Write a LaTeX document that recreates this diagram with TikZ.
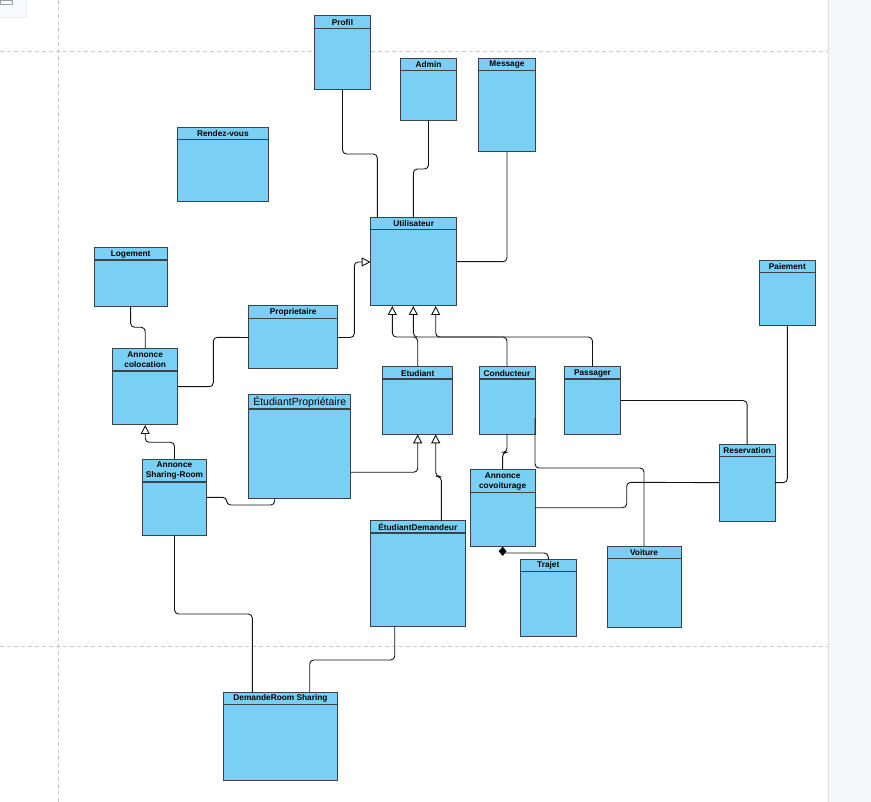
\documentclass[tikz,border=0pt]{standalone}
\usepackage{fontspec}
\setmainfont{Liberation Sans}
\usetikzlibrary{arrows.meta,shapes.geometric}
\definecolor{clsfill}{RGB}{122,207,244}
\definecolor{clsdraw}{RGB}{60,66,72}
\definecolor{gridc}{RGB}{200,200,200}
\definecolor{panelc}{RGB}{245,247,249}
\definecolor{linec}{RGB}{20,20,20}
\newcommand\umlcls[7]{%
  \node[clsbox, minimum width={(#4-#2)*1pt}, minimum height={(#5-#3)*1pt}] (#1) at ({(#2+#4)/2},{(#3+#5)/2}) {};
  \draw[hdrline] (#2,#6) -- (#4,#6);
  \node[hdrtxt] (#1-t) at ({(#2+#4)/2},{(#3+#6)/2+0.3}) {#7};
}
\begin{document}
\begin{tikzpicture}[x=1pt,y=-1pt,
  clsbox/.style={draw=clsdraw, fill=clsfill, line width=1pt, inner sep=0pt, outer sep=0pt, rectangle},
  hdrline/.style={draw=clsdraw, line width=1.2pt},
  hdrtxt/.style={inner sep=0pt, align=center, font=\bfseries\fontsize{8.3}{10}\selectfont, text=black},
  conn/.style={draw=linec, line width=0.9pt, rounded corners=4pt},
  gen/.style={conn, -{Triangle[open, fill=white, length=9pt, width=9pt]}},
  compdia/.style={diamond, fill=black, draw=none, inner sep=0pt, minimum width=8pt, minimum height=9.5pt},
  gridline/.style={draw=gridc, line width=0.8pt, dash pattern=on 4pt off 3pt}]
\useasboundingbox (0,0) rectangle (871,802);
\fill[white] (0,0) rectangle (871,802);
% page furniture
\fill[panelc] (828.5,0) rectangle (871,802);
\draw[gray!25, line width=1.2pt] (828.5,0) -- (828.5,802);
\draw[gridline] (58.5,0) -- (58.5,802);
\draw[gridline] (0,51.5) -- (828,51.5);
\draw[gridline] (0,646) -- (828,646);
\fill[panelc!60] (0,0) rectangle (26.5,17);
\draw[gray!15, line width=0.6pt] (26.5,0) -- (26.5,17) -- (0,17);
\draw[gray!75, line width=0.6pt] (0,0.3) rectangle (12,4.8);

% classes
\umlcls{profil}{314.3}{15.7}{370.7}{90}{28.3}{Profil}
\umlcls{admin}{400.3}{58.7}{456.7}{120.3}{70.7}{Admin}
\umlcls{message}{478.7}{58.7}{535.3}{151.7}{70.7}{Message}
\umlcls{rdv}{177}{127.3}{268.7}{201.3}{139.3}{Rendez-vous}
\umlcls{util}{370.7}{217.7}{456.7}{306}{229.7}{Utilisateur}
\umlcls{loge}{94.3}{247.7}{167}{306.3}{260}{Logement}
\umlcls{paie}{759}{260.3}{815.7}{326}{272.3}{Paiement}
\umlcls{prop}{248.7}{306}{337.7}{369}{318.3}{Proprietaire}
\umlcls{acol}{112.7}{348.3}{177.7}{425}{371}{Annonce\\colocation}
\umlcls{etud}{382.7}{366.7}{452.7}{434.3}{379}{Etudiant}
\umlcls{cond}{479}{366.7}{535}{434.3}{379}{Conducteur}
\umlcls{pass}{564.3}{366.7}{620.7}{434.3}{379}{Passager}
\umlcls{ep}{248.7}{394.7}{350.7}{498}{409}{\mdseries\fontsize{10.5}{12}\selectfont ÉtudiantPropriétaire}
\umlcls{res}{719}{444.3}{775.3}{521}{456.7}{Reservation}
\umlcls{asr}{142.3}{459.3}{206.7}{535.7}{482}{Annonce\\Sharing-Room}
\umlcls{acov}{470.3}{469.7}{535}{546.3}{492.3}{Annonce\\covoiturage}
\umlcls{ed}{370.3}{520.7}{465.3}{626.7}{533}{ÉtudiantDemandeur}
\umlcls{voit}{607}{546}{681}{627}{558.3}{Voiture}
\umlcls{trajet}{520.3}{559.3}{576.3}{636}{571.3}{Trajet}
\umlcls{drs}{223.3}{692.3}{337.7}{780.7}{704.3}{DemandeRoom Sharing}

% associations
\draw[conn] (profil.south) |- (377.3,154) -- (util.north -| 377.3,0);
\draw[conn] (admin.south) |- (413.3,169) -- (util.north -| 413.3,0);
\draw[conn] (message.south) |- (util.east |- 0,261.7);
\draw[conn] (loge.south) |- (acol.north |- 0,327.3) -- (acol.north);
\draw[conn] (acol.east |- 0,386.7) -| (213.3,337.3) -- (prop.west);
\draw[conn] (asr.east |- 0,497.3) -| (226.7,505) -| (ep.south -| 274.7,0);
\draw[conn] (asr.south) |- (252.3,614) -- (drs.north -| 252.3,0);
\draw[conn] (ed.south -| 394.7,0) |- (309.7,660) -- (drs.north -| 309.7,0);
\draw[conn] (cond.south) |- (acov.north |- 0,452.3) -- (acov.north);
\draw[conn] (cond.east |- 0,418.3) |- (voit.north |- 0,468) -- (voit.north);
\draw[conn] (acov.east |- 0,507.7) -| (626.7,482.3) -- (res.west);
\draw[conn] (pass.east) -| (res.north);
\draw[conn] (res.east) -| (paie.south);

% generalizations
\draw[gen] (prop.east) -| (354.3,262) -- (util.west |- 0,262);
\draw[gen] (etud.north) |- (392.3,337) -- (util.south -| 392.3,0);
\draw[gen] (cond.north) |- (413.3,337) -- (util.south -| 413.3,0);
\draw[gen] (pass.north) |- (435.7,337) -- (util.south -| 435.7,0);
\draw[gen] (ep.east |- 0,472.3) -| (etud.south);
\draw[gen] (ed.north -| 441.3,0) |- (435.7,476.5) -- (etud.south -| 435.7,0);
\draw[gen] (asr.north) |- (acol.south |- 0,442.3) -- (acol.south);

% composition
\node[compdia, anchor=north] (dia) at (acov.south) {};
\draw[conn] (dia.center |- 0,553) -| (trajet.north);
\end{tikzpicture}
\end{document}
